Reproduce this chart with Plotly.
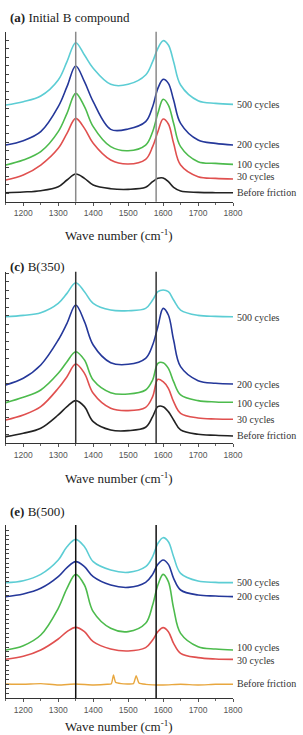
import plotly.graph_objects as go

# ---------------- data (intensity, arbitrary units) ----------------
wn = [1150, 1200, 1250, 1300, 1325, 1350, 1375, 1400, 1450, 1500,
      1550, 1570, 1585, 1600, 1615, 1630, 1650, 1700, 1750, 1800]

labels = ["500 cycles", "200 cycles", "100 cycles", "30 cycles", "Before friction"]

# panel (a) Initial B compound
a_500 = [290, 300, 317, 365, 420, 477, 440, 400, 352, 352, 380, 420, 460, 483, 470, 420, 350, 303, 295, 292]
a_200 = [170, 183, 210, 285, 345, 407, 360, 300, 217, 218, 240, 285, 340, 367, 355, 305, 235, 185, 175, 170]
a_100 = [110, 125, 150, 210, 265, 325, 285, 225, 165, 153, 170, 210, 265, 307, 290, 235, 165, 120, 115, 112]
a_30 = [65, 80, 110, 160, 205, 250, 220, 175, 125, 113, 127, 165, 210, 248, 233, 175, 110, 75, 70, 68]
a_0 = [27, 29, 33, 45, 65, 83, 70, 50, 39, 37, 43, 60, 70, 71, 60, 43, 32, 28, 27, 27]

# panel (c) B(350)
c_500 = [380, 384, 392, 420, 450, 482, 455, 420, 400, 398, 405, 430, 455, 460, 455, 430, 400, 384, 381, 380]
c_200 = [175, 195, 235, 310, 360, 415, 365, 295, 242, 237, 255, 295, 350, 405, 385, 310, 230, 188, 180, 178]
c_100 = [122, 138, 160, 210, 245, 275, 250, 190, 152, 148, 160, 190, 240, 242, 225, 185, 145, 128, 124, 123]
c_30 = [70, 85, 110, 165, 200, 238, 210, 150, 105, 98, 108, 140, 192, 185, 165, 125, 90, 76, 73, 72]
c_0 = [20, 30, 45, 85, 110, 128, 110, 65, 40, 38, 48, 80, 110, 110, 95, 70, 40, 27, 24, 22]

# panel (e) B(500)
e_500 = [347, 353, 372, 415, 455, 477, 455, 410, 385, 378, 395, 425, 465, 482, 470, 425, 375, 352, 348, 347]
e_200 = [305, 313, 330, 365, 392, 410, 395, 365, 340, 333, 348, 372, 402, 415, 402, 360, 325, 310, 307, 305]
e_100 = [145, 158, 190, 270, 330, 372, 340, 260, 210, 200, 225, 280, 340, 372, 350, 270, 195, 155, 148, 145]
e_30 = [117, 126, 145, 178, 200, 213, 200, 170, 148, 142, 152, 175, 200, 212, 200, 165, 135, 122, 118, 117]
wn_e0 = [1150, 1200, 1250, 1300, 1350, 1400, 1440, 1452, 1458, 1464, 1480, 1500,
         1515, 1523, 1531, 1550, 1600, 1650, 1700, 1750, 1800]
e_0 = [43, 42, 44, 40, 43, 40, 42, 44, 70, 48, 44, 43, 44, 68, 46, 42, 40, 42, 40, 42, 42]

panels = [
    dict(title="<b>(a)</b> Initial B compound", series=[a_500, a_200, a_100, a_30, a_0],
         label_y=[293, 172, 112, 75, 28], label_shift=[0, 0, 0, 0, 0],
         yrange=[0, 510], dtick=25.5, vcolor="#8a8a8a",
         dom=[0.7256, 0.9569], title_y=1 - 18 / 735, axt_y=1 - 235 / 735),
    dict(title="<b>(c)</b> B(350)", series=[c_500, c_200, c_100, c_30, c_0],
         label_y=[378, 175, 120, 70, 23], label_shift=[0, 0, 0, 0, 0],
         yrange=[0, 515], dtick=25.5, vcolor="#333333",
         dom=[0.3969, 0.6303], title_y=1 - 266 / 735, axt_y=1 - 478 / 735),
    dict(title="<b>(e)</b> B(500)", series=[e_500, e_200, e_100, e_30],
         label_y=[348, 305, 148, 118, 43], label_shift=[0, 0, 2, -2, 0],
         yrange=[0, 520], dtick=14, vcolor="#111111",
         dom=[0.0499, 0.2857], title_y=1 - 512 / 735, axt_y=1 - 726 / 735),
]

colors = ["#5ccdd4", "#25389a", "#4dbb4d", "#e0504f", "#222222"]
orange = "#e8a73f"
vlines = [1350, 1580]

fig = go.Figure()
serif = "Liberation Serif"
annotations = []
shapes = []

for i, p in enumerate(panels):
    n = i + 1
    xa = "x" if n == 1 else f"x{n}"
    ya = "y" if n == 1 else f"y{n}"
    for k, ys in enumerate(p["series"]):
        fig.add_trace(go.Scatter(x=wn, y=ys, mode="lines", xaxis=xa, yaxis=ya,
                                 line=dict(color=colors[k], width=1.6, shape="spline", smoothing=1.0),
                                 showlegend=False, hoverinfo="skip"))
    if n == 3:
        fig.add_trace(go.Scatter(x=wn_e0, y=e_0, mode="lines", xaxis=xa, yaxis=ya,
                                 line=dict(color=orange, width=1.4, shape="spline", smoothing=0.5),
                                 showlegend=False, hoverinfo="skip"))
    for v in vlines:
        shapes.append(dict(type="line", xref=xa, yref=f"{ya} domain", x0=v, x1=v, y0=0, y1=1,
                           line=dict(color=p["vcolor"], width=1.5), layer="above"))
    for lab, ly, sh in zip(labels, p["label_y"], p["label_shift"]):
        annotations.append(dict(x=1800, y=ly, xref=xa, yref=ya, text=lab, showarrow=False,
                                xanchor="left", yanchor="middle", xshift=2, yshift=sh,
                                font=dict(family=serif, size=10, color="#333333")))
    annotations.append(dict(x=8 / 303, y=p["title_y"], xref="paper", yref="paper",
                            text=p["title"], showarrow=False, xanchor="left", yanchor="middle",
                            font=dict(family=serif, size=13, color="#222222")))
    annotations.append(dict(x=123 / 303, y=p["axt_y"], xref="paper", yref="paper",
                            text="Wave number (cm<sup>-1</sup>)", showarrow=False,
                            xanchor="center", yanchor="middle",
                            font=dict(family=serif, size=13, color="#222222")))
    fig.update_layout(**{
        ("xaxis" if n == 1 else f"xaxis{n}"): dict(
            domain=[6 / 303, 241 / 303], range=[1150, 1800], anchor=ya,
            showline=True, linecolor="#333333", linewidth=1.2, showgrid=False, zeroline=False,
            tickmode="linear", tick0=1200, dtick=100, ticks="outside", ticklen=3,
            tickcolor="#555555", tickfont=dict(family="Liberation Sans", size=8.5, color="#555555"),
            minor=dict(ticks="outside", dtick=50, tick0=1150, ticklen=2, tickcolor="#666666"),
        ),
        ("yaxis" if n == 1 else f"yaxis{n}"): dict(
            domain=p["dom"], range=p["yrange"], anchor=xa,
            showline=True, linecolor="#333333", linewidth=1.2, showgrid=False, zeroline=False,
            showticklabels=False, ticks="inside", ticklen=3, tickcolor="#444444",
            tickmode="linear", tick0=p["yrange"][0], dtick=p["dtick"],
        ),
    })

fig.update_layout(width=303, height=735, margin=dict(l=0, r=0, t=0, b=0),
                  paper_bgcolor="white", plot_bgcolor="white",
                  annotations=annotations, shapes=shapes)

fig.write_html("out.html")
